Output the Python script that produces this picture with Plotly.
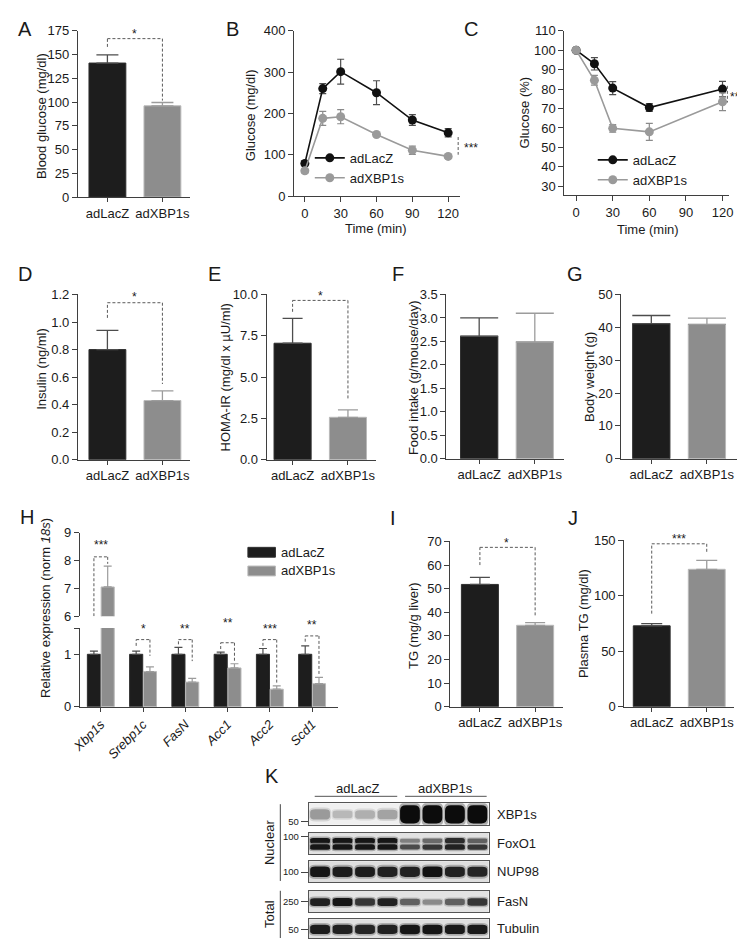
import plotly.graph_objects as go

W, HT = 745, 939
FONT = "Liberation Sans, Arial, Helvetica, sans-serif"
TXT = "#1a1a1a"
AX = "#3f3f3f"
BLK, BLK_EDGE = "#1d1d1d", "#2e2e2e"
GRY, GRY_EDGE = "#8d8d8d", "#b9b9b9"
LZ_ERR, XB_ERR = "#4d4d4d", "#9c9c9c"
LINE_LZ, LINE_XB = "#111111", "#9a9a9a"
DASH = "#5a5a5a"

# ---------------- data ----------------
groups = ["adLacZ", "adXBP1s"]

blood_glucose = [141, 96]
blood_glucose_sem = [8.5, 3.5]
blood_glucose_ticks = [0, 25, 50, 75, 100, 125, 150, 175]

gtt_time = [0, 15, 30, 60, 90, 120]
gtt_lacz = [79, 260, 301, 250, 184, 153]
gtt_lacz_sem = [6, 12, 30, 29, 13, 10]
gtt_xbp1s = [61, 188, 192, 149, 111, 96]
gtt_xbp1s_sem = [5, 17, 17, 4, 10, 4]
gtt_yticks = [0, 100, 200, 300, 400]
time_ticks = [0, 30, 60, 90, 120]

itt_time = [0, 15, 30, 60, 120]
itt_lacz = [100, 93, 80.5, 70.5, 80]
itt_lacz_sem = [0.8, 3.2, 3.3, 2.0, 4.0]
itt_xbp1s = [100, 84.5, 59.8, 58.0, 73.5]
itt_xbp1s_sem = [0.8, 2.5, 2.0, 4.4, 4.6]
itt_yticks = [30, 40, 50, 60, 70, 80, 90, 100, 110]

insulin = [0.80, 0.43]
insulin_sem = [0.14, 0.07]
insulin_ticks = [0, 0.2, 0.4, 0.6, 0.8, 1.0, 1.2]

homa_ir = [7.05, 2.57]
homa_ir_sem = [1.5, 0.45]
homa_ticks = [0, 2.5, 5.0, 7.5, 10.0]

food_intake = [2.61, 2.49]
food_intake_sem = [0.39, 0.61]
food_ticks = [0, 0.5, 1.0, 1.5, 2.0, 2.5, 3.0, 3.5]

body_weight = [41.1, 40.9]
body_weight_sem = [2.5, 1.9]
bw_ticks = [0, 10, 20, 30, 40, 50]

genes = ["Xbp1s", "Srebp1c", "FasN", "Acc1", "Acc2", "Scd1"]
expr_lacz = [1.0, 1.0, 1.0, 1.0, 1.0, 1.0]
expr_lacz_sem = [0.06, 0.06, 0.13, 0.04, 0.11, 0.16]
expr_xbp1s = [7.05, 0.67, 0.47, 0.74, 0.335, 0.44]
expr_xbp1s_sem = [0.75, 0.09, 0.07, 0.08, 0.065, 0.12]
expr_low_ticks = [0, 1, 1.5]
expr_low_labels = ["0", "1", ""]
expr_high_ticks = [6, 7, 8, 9]
expr_stars = ["***", "*", "**", "**", "***", "**"]

liver_tg = [51.8, 34.5]
liver_tg_sem = [3.0, 1.1]
liver_tg_ticks = [0, 10, 20, 30, 40, 50, 60, 70]

plasma_tg = [73, 124]
plasma_tg_sem = [2, 8]
plasma_tg_ticks = [0, 50, 100, 150]

blot_rows = ["XBP1s", "FoxO1", "NUP98", "FasN", "Tubulin"]
blot_mw = ["50", "100", "100", "250", "50"]
lane_ids = [1, 2, 3, 4, 5, 6, 7, 8]
band_xbp1s = [0.32, 0.18, 0.22, 0.28, 1.0, 1.0, 1.0, 1.0]
band_foxo1_upper = [0.95, 0.95, 0.95, 0.95, 0.45, 0.55, 0.85, 0.6]
band_foxo1_lower = [0.95, 0.95, 0.95, 0.95, 0.7, 0.8, 0.9, 0.8]
band_nup98 = [0.95, 0.92, 0.92, 0.9, 0.9, 0.97, 0.9, 0.88]
band_fasn = [0.9, 0.95, 0.8, 0.9, 0.6, 0.4, 0.6, 0.8]
band_tubulin = [0.92, 0.9, 0.88, 0.9, 0.95, 0.95, 0.93, 0.93]

# ---------------- helpers ----------------
fig = go.Figure()
layout = {}
annotations = []
shapes = []


def xname(n): return "xaxis" if n == 1 else f"xaxis{n}"
def yname(n): return "yaxis" if n == 1 else f"yaxis{n}"
def xr(n): return "x" if n == 1 else f"x{n}"
def yr(n): return "y" if n == 1 else f"y{n}"
def dx(a, b): return [a / W, b / W]
def dy(top, bot): return [1 - bot / HT, 1 - top / HT]


AXBASE = dict(showline=True, linecolor=AX, linewidth=1, ticks="outside", tickcolor=AX,
              tickwidth=1, showgrid=False, zeroline=False, fixedrange=True,
              tickfont=dict(family=FONT, size=13, color=TXT))


def txt(x, y, s, size=13, angle=0, xanchor="center", yanchor="middle"):
    annotations.append(dict(x=x / W, y=1 - y / HT, xref="paper", yref="paper", text=s,
                            showarrow=False, font=dict(family=FONT, size=size, color=TXT),
                            textangle=angle, xanchor=xanchor, yanchor=yanchor, borderpad=0))


def pline(x0, y0, x1, y1, color="#555555", width=1, dash=None):
    ln = dict(color=color, width=width)
    if dash:
        ln["dash"] = dash
    shapes.append(dict(type="line", xref="paper", yref="paper", x0=x0 / W, y0=1 - y0 / HT,
                       x1=x1 / W, y1=1 - y1 / HT, line=ln))


def prect(x0, y0, x1, y1, fill, edge):
    shapes.append(dict(type="rect", xref="paper", yref="paper", x0=x0 / W, y0=1 - y0 / HT,
                       x1=x1 / W, y1=1 - y1 / HT, fillcolor=fill,
                       line=dict(color=edge, width=1)))


def bracket(xa, ya, x0, x1, ytop, yl, yr_):
    st = dict(type="line", xref=xa, yref=ya, line=dict(color=DASH, width=1, dash="3px,2px"))
    shapes.append(dict(st, x0=x0, x1=x0, y0=yl, y1=ytop))
    shapes.append(dict(st, x0=x0, x1=x1, y0=ytop, y1=ytop))
    shapes.append(dict(st, x0=x1, x1=x1, y0=ytop, y1=yr_))


def bar_panel(n, vals, sems, xpx, ypx, yrange, yticks, yfmt, xrange, cap):
    for i, (g, v, s) in enumerate(zip(groups, vals, sems)):
        fc, ec, erc = (BLK, BLK_EDGE, LZ_ERR) if i == 0 else (GRY, GRY_EDGE, XB_ERR)
        fig.add_trace(go.Bar(
            x=[i], y=[v], width=0.67, name=g,
            marker=dict(color=fc, line=dict(color=ec, width=1)),
            error_y=dict(type="data", symmetric=False, array=[s], arrayminus=[0],
                         color=erc, thickness=1.3, width=cap),
            xaxis=xr(n), yaxis=yr(n), showlegend=False, hoverinfo="skip"))
    layout[xname(n)] = dict(AXBASE, domain=dx(*xpx), range=xrange, anchor=yr(n),
                            tickvals=list(range(len(groups))), ticktext=groups, ticklen=4)
    layout[yname(n)] = dict(AXBASE, domain=dy(*ypx), range=yrange, anchor=xr(n),
                            tickvals=yticks, tickformat=yfmt, ticklen=5)


def line_panel(n, t, lz, lzs, xb, xbs, legend, xpx, ypx, xrange, yrange, yticks):
    for name, y, s, col, ecol in [(groups[0], lz, lzs, LINE_LZ, LZ_ERR),
                                  (groups[1], xb, xbs, LINE_XB, "#8a8a8a")]:
        fig.add_trace(go.Scatter(
            x=t, y=y, mode="lines+markers", name=name,
            line=dict(color=col, width=1.6), marker=dict(color=col, size=9),
            error_y=dict(type="data", array=s, color=ecol, thickness=1.2, width=3.5),
            xaxis=xr(n), yaxis=yr(n), legend=legend, hoverinfo="skip"))
    layout[xname(n)] = dict(AXBASE, domain=dx(*xpx), range=xrange, anchor=yr(n),
                            tickvals=time_ticks, ticklen=5)
    layout[yname(n)] = dict(AXBASE, domain=dy(*ypx), range=yrange, anchor=xr(n),
                            tickvals=yticks, ticklen=5)


# ---------------- row 1 ----------------
bar_panel(1, blood_glucose, blood_glucose_sem, (62, 176), (16, 185), [0, 175],
          blood_glucose_ticks, None, [-0.536, 1.5], 11)
bracket("x", "y", 0, 1, 166.7, 158, 101.5)

line_panel(2, gtt_time, gtt_lacz, gtt_lacz_sem, gtt_xbp1s, gtt_xbp1s_sem, "legend",
           (282, 451), (16, 184), [-9, 130], [0, 400], gtt_yticks)
line_panel(3, itt_time, itt_lacz, itt_lacz_sem, itt_xbp1s, itt_xbp1s_sem, "legend2",
           (557, 725), (16, 183), [-9.7, 125.6], [25.5, 110], itt_yticks)

# ---------------- row 2 ----------------
bar_panel(4, insulin, insulin_sem, (62, 176), (284, 452), [0, 1.2],
          insulin_ticks, ".1f", [-0.536, 1.5], 11)
bracket("x4", "y4", 0, 1, 1.14, 1.03, 0.55)
bar_panel(5, homa_ir, homa_ir_sem, (254, 365), (284, 452), [0, 10],
          homa_ticks, ".1f", [-0.47, 1.5], 10)
bracket("x5", "y5", 0, 1, 9.64, 8.95, 3.6)
bar_panel(6, food_intake, food_intake_sem, (437, 557), (284, 451), [0, 3.5],
          food_ticks, ".1f", [-0.59, 1.53], 19)
bar_panel(7, body_weight, body_weight_sem, (615, 735), (284, 451), [0, 50],
          bw_ticks, None, [-0.54, 1.58], 19)

# ---------------- row 3: H ----------------
OFF = 0.163
H_LOW = (623, 703)
H_LOW_RANGE = [0, 1.5]
for yax in ["y8", "y9"]:
    fig.add_trace(go.Bar(
        x=[i - OFF for i in range(len(genes))], y=expr_lacz, width=0.31, name=groups[0],
        marker=dict(color=BLK, line=dict(color=BLK_EDGE, width=1)),
        error_y=dict(type="data", symmetric=False, array=expr_lacz_sem,
                     arrayminus=[0] * len(genes), color=LZ_ERR, thickness=1.2, width=4),
        xaxis="x8", yaxis=yax, showlegend=False, hoverinfo="skip"))
    fig.add_trace(go.Bar(
        x=[i + OFF for i in range(len(genes))], y=expr_xbp1s, width=0.31, name=groups[1],
        marker=dict(color=GRY, line=dict(color=GRY_EDGE, width=1)),
        error_y=dict(type="data", symmetric=False, array=expr_xbp1s_sem,
                     arrayminus=[0] * len(genes), color=XB_ERR, thickness=1.2, width=4),
        xaxis="x8", yaxis=yax, showlegend=False, hoverinfo="skip"))

layout["xaxis8"] = dict(AXBASE, domain=dx(64, 327), range=[-0.495, 5.62], anchor="y8",
                        tickvals=list(range(len(genes))),
                        ticktext=[f"<i>{g}</i>" for g in genes], tickangle=-45, ticklen=4)
layout["yaxis8"] = dict(AXBASE, domain=dy(*H_LOW), range=H_LOW_RANGE, anchor="x8",
                        tickvals=expr_low_ticks, ticktext=expr_low_labels, ticklen=5)
layout["yaxis9"] = dict(AXBASE, domain=dy(526, 611), range=[6, 9], anchor="x8",
                        tickvals=expr_high_ticks, ticklen=5)

h_br = [(1, 1.28, 1.16, 0.97), (2, 1.28, 1.19, 0.87), (3, 1.22, 1.10, 0.86),
        (4, 1.28, 1.16, 0.43), (5, 1.35, 1.24, 0.60)]
pxu = (H_LOW[1] - H_LOW[0]) / (H_LOW_RANGE[1] - H_LOW_RANGE[0])
for g, top, yl, yrr in h_br:
    bracket("x8", "y8", g - OFF, g + OFF, top, yl, yrr)
    ypx = H_LOW[1] - (top + 0.2) * pxu
    annotations.append(dict(x=g, y=1 - ypx / HT, xref="x8", yref="paper", text=expr_stars[g],
                            showarrow=False, font=dict(family=FONT, size=12, color=TXT)))
bracket("x8", "y9", -OFF, OFF, 8.13, 6.0, 7.88)
annotations.append(dict(x=0, y=8.55, xref="x8", yref="y9", text=expr_stars[0],
                        showarrow=False, font=dict(family=FONT, size=12, color=TXT)))

# H legend (wide swatches as in the original)
prect(235, 541, 263, 551, BLK, BLK_EDGE)
prect(235, 560, 263, 570, GRY, GRY_EDGE)
txt(268, 546, groups[0], xanchor="left")
txt(268, 565, groups[1], xanchor="left")

# ---------------- row 3: I, J ----------------
bar_panel(10, liver_tg, liver_tg_sem, (441, 556), (535, 703), [0, 70],
          liver_tg_ticks, None, [-0.536, 1.51], 10)
bracket("x10", "y10", 0, 1, 67.5, 60, 38)
bar_panel(11, plasma_tg, plasma_tg_sem, (618, 730), (534, 703), [0, 150],
          plasma_tg_ticks, None, [-0.5, 1.5], 10.5)
bracket("x11", "y11", 0, 1, 147, 84, 139)

# ---------------- K: western blot ----------------
boxes = [(801, 823), (831, 853), (860, 881), (890, 912), (919, 938)]
mw_pos = [0.14, 0.82, 0.48, 0.5, 0.47]
row_bg = ["#f0f0f0", "#e2e2e2", "#dedede", "#e3e3e3", "#e0e0e0"]
row_bands = [
    [(band_xbp1s, 0.48, 0.84)],
    [(band_foxo1_upper, 0.63, 0.27), (band_foxo1_lower, 0.34, 0.27)],
    [(band_nup98, 0.49, 0.52)],
    [(band_fasn, 0.48, 0.38)],
    [(band_tubulin, 0.46, 0.52)],
]
LANE_PX = (480 - 297) / 8


def band_path(xc, half, yc, h, row_px):
    x0, x1, y0, y1 = xc - half, xc + half, yc - h / 2, yc + h / 2
    ry = h / 2
    rx = min(half * 0.6, ry * row_px / LANE_PX)
    return (f"M {x0 + rx},{y0} L {x1 - rx},{y0} Q {x1},{y0} {x1},{y0 + ry * 0.6} "
            f"L {x1},{y1 - ry * 0.6} Q {x1},{y1} {x1 - rx},{y1} L {x0 + rx},{y1} "
            f"Q {x0},{y1} {x0},{y1 - ry * 0.6} L {x0},{y0 + ry * 0.6} Q {x0},{y0} {x0 + rx},{y0} Z")


for k, name in enumerate(blot_rows):
    n = 12 + k
    row_px = boxes[k][1] - boxes[k][0]
    fig.add_trace(go.Scatter(x=lane_ids, y=[0.5] * len(lane_ids), mode="markers",
                             marker=dict(opacity=0), xaxis=xr(n), yaxis=yr(n),
                             showlegend=False, hoverinfo="skip"))
    layout[xname(n)] = dict(domain=dx(297, 480), range=[0.5, 8.5], anchor=yr(n),
                            showline=True, mirror=True, linecolor="#555555", linewidth=1,
                            showgrid=False, zeroline=False, showticklabels=False, ticks="",
                            fixedrange=True)
    layout[yname(n)] = dict(domain=dy(*boxes[k]), range=[0, 1], anchor=xr(n),
                            showline=True, mirror=True, linecolor="#555555", linewidth=1,
                            showgrid=False, zeroline=False, ticks="outside", ticklen=7,
                            tickcolor="#444444", tickvals=[mw_pos[k]], ticktext=[blot_mw[k]],
                            tickfont=dict(family=FONT, size=9.5, color=TXT), fixedrange=True)
    shapes.append(dict(type="rect", xref=f"{xr(n)} domain", yref=f"{yr(n)} domain",
                       x0=0, x1=1, y0=0, y1=1, fillcolor=row_bg[k], line=dict(width=0),
                       layer="below"))
    for inten, c, hmax in row_bands[k]:
        for lane, I in zip(lane_ids, inten):
            h = hmax * I ** 0.5
            lo = int(226 - 100 * I)
            li = int(222 - 210 * I)
            shapes.append(dict(type="path", xref=xr(n), yref=yr(n),
                               path=band_path(lane, 0.49, c, h * 1.25 + 0.06, row_px),
                               fillcolor=f"rgb({lo},{lo},{lo})", opacity=0.6,
                               line=dict(width=0)))
            shapes.append(dict(type="path", xref=xr(n), yref=yr(n),
                               path=band_path(lane, 0.44, c, h, row_px),
                               fillcolor=f"rgb({li},{li},{li})", line=dict(width=0)))
    txt(488, (boxes[k][0] + boxes[k][1]) / 2, name, xanchor="left")

txt(347, 786, groups[0])
txt(436, 786, groups[1])
pline(303, 794, 387, 794)
pline(395, 794, 478, 794)
pline(268, 802, 268, 880, color="#444444")
pline(268, 890, 268, 938, color="#444444")
txt(257, 841, "Nuclear", angle=-90)
txt(257, 914, "Total", angle=-90)

# ---------------- text ----------------
for lab, x, y in [("A", 8, 14), ("B", 219, 14), ("C", 462, 14), ("D", 8, 263), ("E", 201, 263),
                  ("F", 388, 263), ("G", 568, 263), ("H", 10, 510), ("I", 383, 511),
                  ("J", 566, 511), ("K", 260, 773)]:
    txt(x, y, lab, size=20)

txt(25, 103, "Blood glucose (mg/dl)", angle=-90)
txt(238, 102, "Glucose (mg/dl)", angle=-90)
txt(516, 99, "Glucose (%)", angle=-90)
txt(365, 217, "Time (min)")
txt(642, 218, "Time (min)")
txt(25, 360, "Insulin (ng/ml)", angle=-90)
txt(212, 368, "HOMA-IR (mg/dl x µU/ml)", angle=-90)
txt(403, 368, "Food intake (g/mouse/day)", angle=-90)
txt(582, 368, "Body weight (g)", angle=-90)
txt(29, 602, "Relative expression (norm <i>18s</i>)", angle=-90)
txt(403, 620, "TG (mg/g liver)", angle=-90)
txt(576, 618, "Plasma TG (mg/dl)", angle=-90)

# significance stars (px positions of glyph centres + 3px offset)
for x, y, s in [(120, 19, "*"), (120, 287, "*"), (309, 286, "*"), (498, 537, "*"),
                (674, 533, "***"), (462, 135, "***"), (733, 83, "***")]:
    txt(x, y, s, size=12)
pline(449, 124, 449, 142, color=DASH, dash="3px,2px")
pline(723, 72, 723, 89, color=DASH, dash="3px,2px")

leg = dict(xanchor="left", yanchor="top", bgcolor="rgba(0,0,0,0)",
           font=dict(family=FONT, size=13, color=TXT), itemwidth=30, tracegroupgap=0)
fig.update_layout(
    width=W, height=HT, margin=dict(l=0, r=0, t=0, b=0),
    paper_bgcolor="white", plot_bgcolor="white", barmode="overlay",
    font=dict(family=FONT, size=13, color=TXT),
    legend=dict(leg, x=298 / W, y=1 - 130 / HT),
    legend2=dict(leg, x=586 / W, y=1 - 132 / HT),
    annotations=annotations, shapes=shapes, **layout)

fig.write_html("out.html", config={"displayModeBar": False})
